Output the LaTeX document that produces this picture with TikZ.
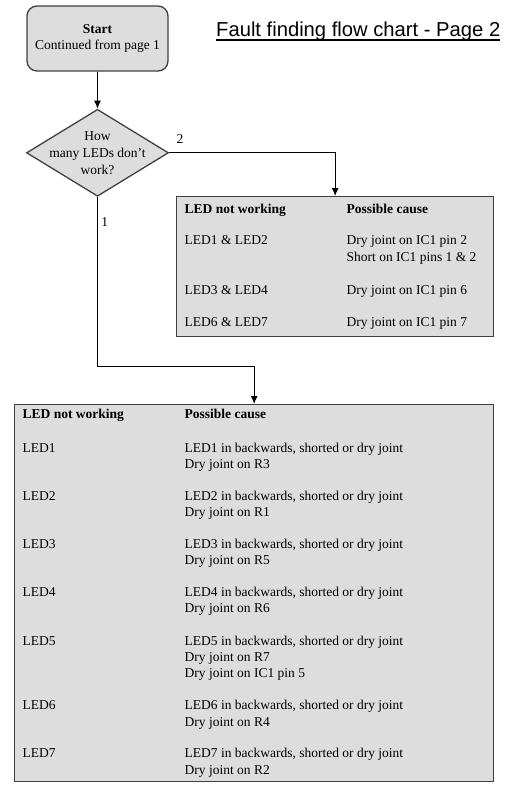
\documentclass[tikz,border=0pt]{standalone}
\usepackage{fontspec}
\setmainfont{Liberation Serif}
\newfontfamily\titlefont{Liberation Sans}
\usetikzlibrary{shapes.geometric, positioning, arrows.meta}
\definecolor{boxfill}{HTML}{DDDDDD}
\definecolor{boxline}{HTML}{404040}
\tikzset{
    >={Latex[length=8pt,width=7pt]}, % small filled arrow heads
    flow/.style={->, draw=black, line width=1pt}, % the connectors between the boxes
    startbox/.style={rectangle, rounded corners=10pt, draw=boxline, fill=boxfill, line width=1.3pt, minimum width=141pt, minimum height=65pt, align=center}, % the start terminal
    decision/.style={diamond, draw=boxline, fill=boxfill, line width=1.3pt, minimum width=142pt, minimum height=87pt, inner sep=0pt}, % the question
    tablebox/.style={rectangle, draw=boxline, fill=boxfill, line width=1.3pt, inner xsep=8pt, inner ysep=0pt}, % the boxes with the causes
}

\begin{document}
\begin{tikzpicture}[x=1pt, y=-1pt, font=\fontsize{13.5}{16}\selectfont]

        \useasboundingbox (0,0) rectangle (507,788);

        % Nodes
        \node[startbox] (start) at (97.5,38.5) {\textbf{Start}\\Continued from page 1};
        \node[decision, below=37pt of start, label={[align=center, font=\fontsize{13.5}{17}\selectfont]center:How\\many LEDs don't\\work?}] (ask) {};
        \node[tablebox, minimum height=140pt, anchor=north west] (pairs) at (176,196) {
            \begin{tabular}{@{}p{162pt}@{}p{139pt}@{}}
                \textbf{LED not working} & \textbf{Possible cause} \\[15pt]
                LED1 \& LED2 & Dry joint on IC1 pin 2 \\[1pt]
                 & Short on IC1 pins 1 \& 2 \\[17pt]
                LED3 \& LED4 & Dry joint on IC1 pin 6 \\[16pt]
                LED6 \& LED7 & Dry joint on IC1 pin 7
            \end{tabular}
            };
        \node[tablebox, minimum height=377pt, anchor=north west] (causes) at (14,404) {
            \begin{tabular}{@{}p{162pt}@{}p{301pt}@{}}
                \textbf{LED not working} & \textbf{Possible cause} \\[18pt]
                LED1 & LED1 in backwards, shorted or dry joint \\
                 & Dry joint on R3 \\[16pt]
                LED2 & LED2 in backwards, shorted or dry joint \\
                 & Dry joint on R1 \\[16pt]
                LED3 & LED3 in backwards, shorted or dry joint \\
                 & Dry joint on R5 \\[16pt]
                LED4 & LED4 in backwards, shorted or dry joint \\
                 & Dry joint on R6 \\[17pt]
                LED5 & LED5 in backwards, shorted or dry joint \\
                 & Dry joint on R7 \\
                 & Dry joint on IC1 pin 5 \\[16pt]
                LED6 & LED6 in backwards, shorted or dry joint \\[1pt]
                 & Dry joint on R4 \\[15pt]
                LED7 & LED7 in backwards, shorted or dry joint \\[1pt]
                 & Dry joint on R2
            \end{tabular}
            };
        \node[anchor=base west, inner sep=0pt, font=\titlefont\fontsize{20.2}{24}\selectfont] (title) at (216,36) {Fault finding flow chart - Page 2};
        \coordinate[above=38pt of causes.north] (merge);

        % edges
        \draw[flow] (start) -- (ask);
        \draw[flow] (ask.east) -| node[pos=0.033, above=5pt] {2} (pairs.north);
        \draw[flow] (ask.south) |- node[pos=0.073, right] {1} (merge) -- (causes.north);
        \draw[line width=1.5pt] ([yshift=-4pt]title.base west) -- ([yshift=-4pt]title.base east);
    \end{tikzpicture}
\end{document}
